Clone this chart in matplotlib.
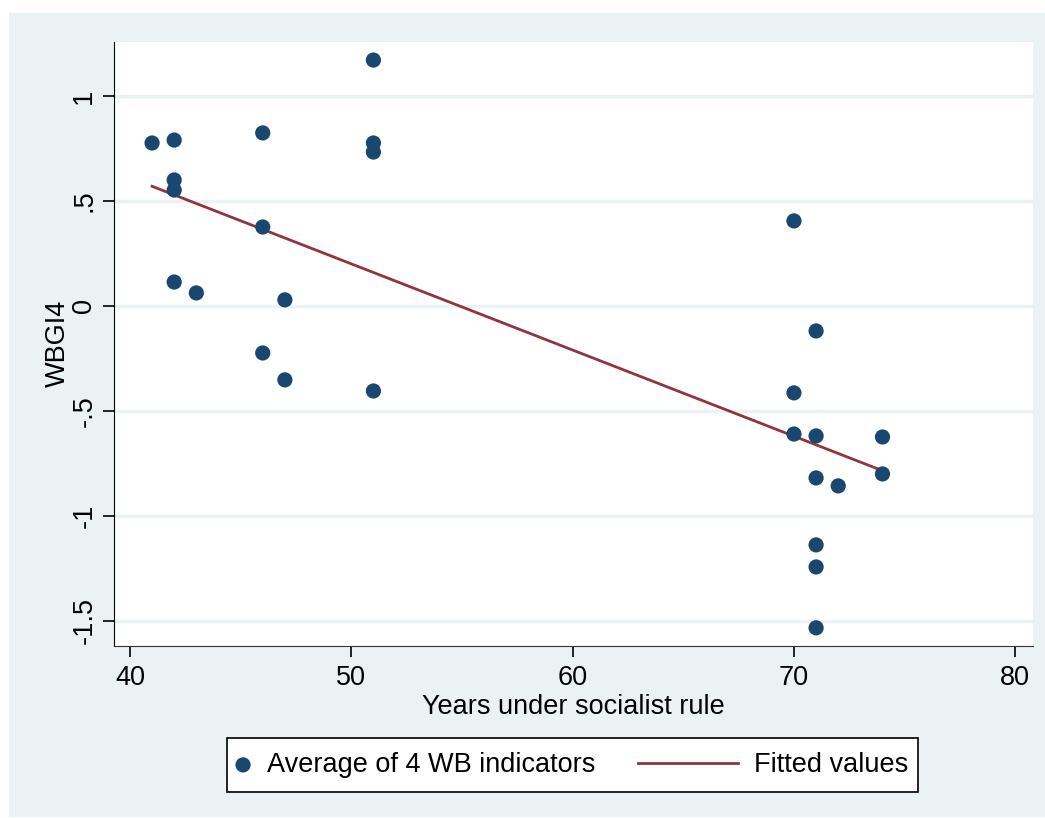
import numpy as np
import matplotlib
matplotlib.use("Agg")
import matplotlib.pyplot as plt
from matplotlib.patches import Rectangle

plt.rcParams['font.family'] = ['Liberation Sans', 'DejaVu Sans']

# data
years = [41, 42, 42, 42, 42, 43, 46, 46, 46, 47, 47, 51, 51, 51, 51,
         70, 70, 70, 71, 71, 71, 71, 71, 71, 72, 74, 74]
wbgi4 = [0.776, 0.79, 0.60, 0.552, 0.114, 0.062, 0.824, 0.376, -0.224,
         0.029, -0.352, 1.171, 0.776, 0.733, -0.405,
         0.405, -0.414, -0.61, -0.119, -0.619, -0.819, -1.138, -1.243,
         -1.533, -0.857, -0.624, -0.80]
x_ticks = [40, 50, 60, 70, 80]
y_ticks = [1, 0.5, 0, -0.5, -1, -1.5]
y_tick_labels = ["1", ".5", "0", "-.5", "-1", "-1.5"]

BG = "#eaf2f3"
NAVY = "#1a476f"
RED = "#90353b"
FS = 19.5
W, H = 1045, 818

# least squares fit
slope, icpt = np.polyfit(years, wbgi4, 1)
fx = np.array([min(years), max(years)])
fy = icpt + slope * fx

fig = plt.figure(figsize=(W / 100, H / 100), dpi=100, facecolor="white")
fig.patches.append(Rectangle((9 / W, 1 / H), 1036 / W, 804 / H,
                             transform=fig.transFigure, facecolor=BG,
                             edgecolor="none", zorder=-10))

ax = fig.add_axes([114 / W, 1 - 645.7 / H, 919 / W, 603.7 / H])
ax.set_facecolor("white")

sc = ax.scatter(years, wbgi4, s=120, color=NAVY, edgecolor="none", zorder=3,
                label="Average of 4 WB indicators")
ln, = ax.plot(fx, fy, color=RED, lw=2, zorder=2, label="Fitted values")

ax.set_xlim(39.28, 80.8)
ax.set_ylim(-1.618, 1.257)
ax.set_xticks(x_ticks)
ax.set_yticks(y_ticks)
ax.set_yticklabels(y_tick_labels, rotation=90, va="center")
ax.tick_params(labelsize=FS, length=8, width=1.2, direction="out", pad=6)
ax.tick_params(axis="y", pad=4)
ax.grid(axis="y", color=BG, lw=2.5)
ax.set_axisbelow(True)
for s in ["top", "right"]:
    ax.spines[s].set_visible(False)
ax.spines["left"].set_color("black")
ax.spines["bottom"].set_color("#333333")

ax.set_xlabel("Years under socialist rule", fontsize=FS, labelpad=2)
ax.set_ylabel("WBGI4", fontsize=FS, labelpad=0)

# legend: frame + two entries
fig.patches.append(Rectangle((227 / W, 1 - 792 / H), 691 / W, 54 / H,
                             transform=fig.transFigure, facecolor="white",
                             edgecolor="black", lw=1.2, zorder=4))
leg1 = fig.legend(handles=[sc], loc="center left",
                  bbox_to_anchor=(229.5 / W, 1 - 765 / H), frameon=False,
                  fontsize=FS, handlelength=1.0, handletextpad=0.39,
                  borderpad=0, borderaxespad=0, scatterpoints=1)
leg2 = fig.legend(handles=[ln], loc="center left",
                  bbox_to_anchor=(638 / W, 1 - 765 / H), frameon=False,
                  fontsize=FS, handlelength=3.69, handletextpad=0.59,
                  borderpad=0, borderaxespad=0)
leg1.set_zorder(5)
leg2.set_zorder(5)

fig.savefig("out.png", dpi=100, facecolor="white")
